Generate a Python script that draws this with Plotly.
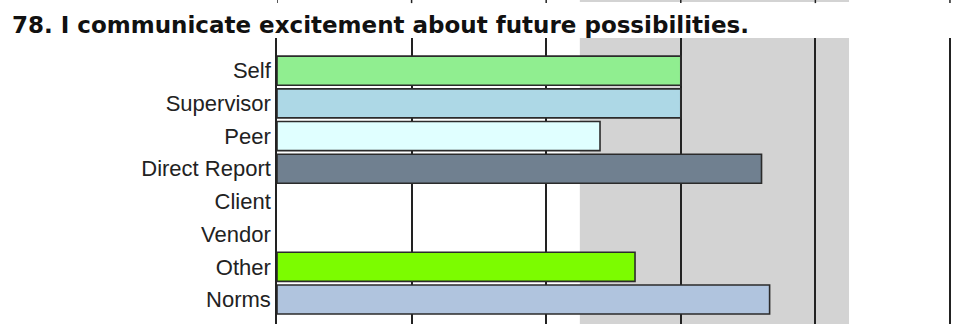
import plotly.graph_objects as go

# Survey item and rater groups
title_text = "78. I communicate excitement about future possibilities."
groups = ["Self", "Supervisor", "Peer", "Direct Report", "Client", "Vendor", "Other", "Norms"]
scores = [3.0, 3.0, 2.4, 3.6, None, None, 2.66, 3.66]
bar_colors = ["#90EE90", "#ADD8E6", "#E0FFFF", "#708090", "#FFFFFF", "#FFFFFF", "#7CFC00", "#B0C4DE"]

# Shaded norm range and scale ticks
band_range = [2.25, 4.25]
scale_ticks = [0, 1, 2, 3, 4, 5]

fig = go.Figure()
fig.add_trace(go.Bar(
    y=list(range(len(groups))),
    x=scores,
    orientation="h",
    marker=dict(color=bar_colors, line=dict(color="#2b2b2b", width=1.6)),
    hoverinfo="skip",
))

shapes = [
    dict(type="rect", xref="x", yref="paper", x0=band_range[0], x1=band_range[1],
         y0=0, y1=1, fillcolor="#D3D3D3", line=dict(width=0), layer="below"),
]
# bottom edge of the preceding chart, peeking in at the top of the page
shapes.append(dict(type="rect", xref="x", yref="paper", x0=band_range[0], x1=band_range[1],
                   y0=1.126, y1=1.14, fillcolor="#D3D3D3", line=dict(width=0), layer="below"))
for t in scale_ticks:
    shapes.append(dict(type="line", xref="x", yref="paper", x0=t, x1=t,
                       y0=1.122, y1=1.14, line=dict(color="#222222", width=1.5)))

fig.update_layout(
    width=956, height=324,
    margin=dict(l=277, r=2, t=38, b=0),
    paper_bgcolor="white", plot_bgcolor="white",
    showlegend=False,
    bargap=0.11,
    shapes=shapes,
    title=dict(text="<b>" + title_text + "</b>", x=12 / 956, xanchor="left", xref="container",
               y=1 - 25 / 324, yanchor="middle", yref="container",
               font=dict(family="DejaVu Sans", size=23, color="#111111")),
    xaxis=dict(range=[0, 5.03], tickvals=scale_ticks, showticklabels=False, ticks="",
               showgrid=True, gridcolor="#222222", gridwidth=1.5, zeroline=False,
               showline=False, fixedrange=True),
    yaxis=dict(range=[7.75, -1.0], tickvals=list(range(len(groups))), ticktext=groups,
               showgrid=False, zeroline=False, showline=True, linecolor="#222222", linewidth=1.5,
               ticks="", ticklabelstandoff=0,
               tickfont=dict(family="Liberation Sans", size=22, color="#222222")),
)

fig.write_html("out.html")
